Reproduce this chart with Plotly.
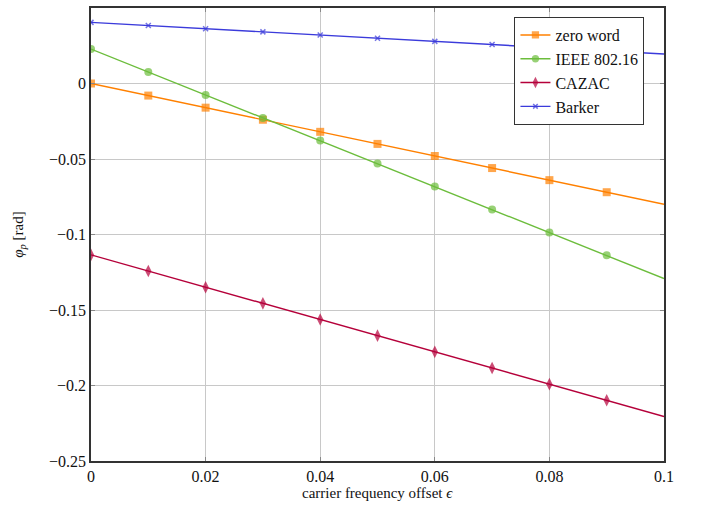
import plotly.graph_objects as go

x = [0, 0.01, 0.02, 0.03, 0.04, 0.05, 0.06, 0.07, 0.08, 0.09, 0.1]
zero_word = [0, -0.008, -0.016, -0.024, -0.032, -0.040, -0.048, -0.056, -0.064, -0.072, -0.080]
ieee = [0.0228, 0.0076, -0.0076, -0.0228, -0.0378, -0.0530, -0.0682, -0.0834, -0.0986, -0.1138, -0.1292]
cazac = [-0.1135, -0.1242, -0.1349, -0.1456, -0.1563, -0.1670, -0.1777, -0.1884, -0.1991, -0.2098, -0.2205]
barker = [0.0405, 0.0384, 0.0363, 0.0342, 0.0321, 0.0300, 0.0279, 0.0258, 0.0237, 0.0216, 0.0195]

x_ticks = [0, 0.02, 0.04, 0.06, 0.08, 0.1]
x_tick_text = ["0", "0.02", "0.04", "0.06", "0.08", "0.1"]
y_ticks = [-0.25, -0.2, -0.15, -0.1, -0.05, 0, 0.05]
y_tick_text = ["\u22120.25", "\u22120.2", "\u22120.15", "\u22120.1", "\u22120.05", "0", "0.05"]

SERIF = "Liberation Serif"

series = [
    ("zero word", zero_word, "#FF8000", "square", 8, 0),
    ("IEEE 802.16", ieee, "#6CBD3C", "circle", 8, 0),
    ("CAZAC", cazac, "#B5003A", "diamond-tall", 9, 0),
    ("Barker", barker, "#3B3BDB", "x-thin", 5, 1.5),
]

fig = go.Figure()
for name, ys, color, sym, size, lw in series:
    sizes = [size] * (len(x) - 1) + [0]
    fig.add_trace(go.Scatter(
        x=x, y=ys, name=name, mode="lines+markers",
        line=dict(color=color, width=1.4),
        marker=dict(symbol=sym, size=sizes, color=color,
                    line=dict(color=color, width=lw)),
    ))

axis_common = dict(
    showgrid=True, gridcolor="#c8c8c8", gridwidth=1,
    showline=True, linecolor="#333333", linewidth=1.5, mirror="ticks",
    ticks="inside", ticklen=4, tickcolor="#888888",
    zeroline=False, automargin=False,
    tickfont=dict(family=SERIF, size=16, color="#111111"),
)

fig.update_layout(
    width=702, height=510,
    margin=dict(l=91, r=38, t=8, b=49),
    paper_bgcolor="white", plot_bgcolor="white",
    font=dict(family=SERIF, size=15, color="#111111"),
    xaxis=dict(range=[0, 0.1], tickvals=x_ticks, ticktext=x_tick_text, **axis_common),
    yaxis=dict(range=[-0.25, 0.05], tickvals=y_ticks, ticktext=y_tick_text, **axis_common),
    legend=dict(x=0.739, y=0.98, xanchor="left", yanchor="top",
                bgcolor="white", bordercolor="#333333", borderwidth=1,
                font=dict(family=SERIF, size=16), tracegroupgap=0, itemwidth=30),
    showlegend=True,
    annotations=[
        dict(text="carrier frequency offset <i>\u03f5</i>", xref="paper", yref="paper",
             x=0.5, y=-0.0706, xanchor="center", yanchor="middle", showarrow=False,
             font=dict(family=SERIF, size=15)),
        dict(text="<i>\u03c6</i><sub><i>p</i></sub> [rad]", xref="paper", yref="paper",
             x=-0.127, y=0.5, xanchor="center", yanchor="middle", showarrow=False,
             textangle=-90, font=dict(family=SERIF, size=15)),
    ],
)

fig.write_html("out.html", config={"displayModeBar": False},
               post_script="document.body.style.margin='0';document.body.style.padding='0';")
